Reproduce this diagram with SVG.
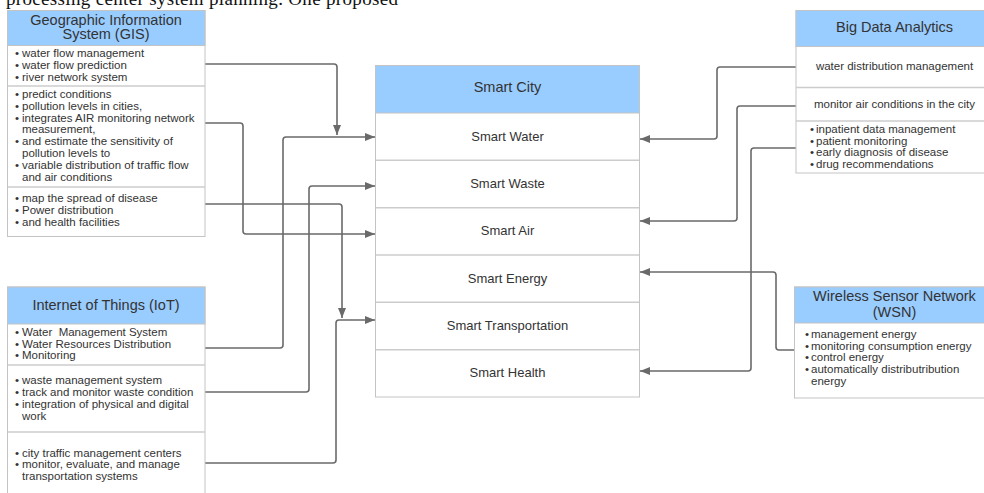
<svg xmlns="http://www.w3.org/2000/svg" width="984" height="493" viewBox="0 0 984 493">
<style>
.bx{fill:#ffffff;stroke:#c4c4c4;stroke-width:1}
.hd{fill:#99ccff;stroke:#c4c4c4;stroke-width:1}
.dv{stroke:#cccccc;stroke-width:1.5;fill:none}
.t{font-family:"Liberation Sans",Arial,sans-serif;fill:#333333}
.h{font-size:14.5px;text-anchor:middle}
.r{font-size:13px;text-anchor:middle}
.b{font-size:11.5px}
.c{font-size:11.5px;text-anchor:middle}
.ln{fill:none;stroke:#6a6a6a;stroke-width:1.6}
.top{font-family:"Liberation Serif","Times New Roman",serif;font-size:19px;fill:#111111}
</style>
<defs>
<marker id="ah" markerWidth="10" markerHeight="8" refX="10" refY="4" orient="auto" markerUnits="userSpaceOnUse">
<path d="M0,0 L10,4 L0,8 z" fill="#6a6a6a"/>
</marker>
</defs>
<rect width="984" height="493" fill="#ffffff"/>
<text class="top" x="6" y="4.5" textLength="392" lengthAdjust="spacing">processing  center  system  planning.  One  proposed</text>

<g id="connectors">
<path class="ln" marker-end="url(#ah)" d="M205,64 H334 Q337,64 337,67 V135"/>
<path class="ln" marker-end="url(#ah)" d="M205,348 H280 Q283,348 283,345 V140 Q283,137 286,137 H375"/>
<path class="ln" marker-end="url(#ah)" d="M205,123 H240 Q243,123 243,126 V231 Q243,234 246,234 H375"/>
<path class="ln" marker-end="url(#ah)" d="M205,392 H306 Q309,392 309,389 V189 Q309,186 312,186 H375"/>
<path class="ln" marker-end="url(#ah)" d="M205,204 H339 Q342,204 342,207 V318"/>
<path class="ln" marker-end="url(#ah)" d="M205,463 H333 Q336,463 336,460 V323 Q336,320 339,320 H375"/>
<path class="ln" marker-end="url(#ah)" d="M796,67 H720 Q717,67 717,70 V136 Q717,139 714,139 H640"/>
<path class="ln" marker-end="url(#ah)" d="M796,106 H740 Q737,106 737,109 V218 Q737,221 734,221 H640"/>
<path class="ln" marker-end="url(#ah)" d="M796,148 H754 Q751,148 751,151 V368 Q751,371 748,371 H640"/>
<path class="ln" marker-end="url(#ah)" d="M794,350 H779 Q776,350 776,347 V275 Q776,272 773,272 H640"/>
</g>

<g id="gis">
<rect class="bx" x="7.5" y="10.5" width="197.5" height="226"/>
<rect class="hd" x="7.5" y="10.5" width="197.5" height="35"/>
<line class="dv" x1="8" y1="86" x2="205" y2="86"/>
<line class="dv" x1="8" y1="187" x2="205" y2="187"/>
<text class="t h" x="106" y="24.5">Geographic Information</text>
<text class="t h" x="106" y="39">System (GIS)</text>
<g class="t b">
<text x="15" y="57">•</text><text x="22" y="57">water flow management</text>
<text x="15" y="69">•</text><text x="22" y="69">water flow prediction</text>
<text x="15" y="81">•</text><text x="22" y="81">river network system</text>
<text x="15" y="98">•</text><text x="22" y="98">predict conditions</text>
<text x="15" y="109.8">•</text><text x="22" y="109.8">pollution levels in cities,</text>
<text x="15" y="121.6">•</text><text x="22" y="121.6">integrates AIR monitoring network</text>
<text x="22" y="133.4">measurement,</text>
<text x="15" y="145.2">•</text><text x="22" y="145.2">and estimate the sensitivity of</text>
<text x="22" y="157">pollution levels to</text>
<text x="15" y="168.8">•</text><text x="22" y="168.8">variable distribution of traffic flow</text>
<text x="22" y="180.6">and air conditions</text>
<text x="15" y="202">•</text><text x="22" y="202">map the spread of disease</text>
<text x="15" y="213.7">•</text><text x="22" y="213.7">Power distribution</text>
<text x="15" y="225.5">•</text><text x="22" y="225.5">and health facilities</text>
</g>
</g>

<g id="iot">
<rect class="bx" x="7.5" y="287" width="197.5" height="215"/>
<rect class="hd" x="7.5" y="287" width="197.5" height="37"/>
<line class="dv" x1="8" y1="365" x2="205" y2="365"/>
<line class="dv" x1="8" y1="432" x2="205" y2="432"/>
<text class="t h" x="106" y="310">Internet of Things (IoT)</text>
<g class="t b">
<text x="15" y="336">•</text><text x="22" y="336" xml:space="preserve">Water  Management System</text>
<text x="15" y="347.5">•</text><text x="22" y="347.5">Water Resources Distribution</text>
<text x="15" y="359">•</text><text x="22" y="359">Monitoring</text>
<text x="15" y="383.5">•</text><text x="22" y="383.5">waste management system</text>
<text x="15" y="395.5">•</text><text x="22" y="395.5">track and monitor waste condition</text>
<text x="15" y="407.5">•</text><text x="22" y="407.5">integration of physical and digital</text>
<text x="22" y="419.5">work</text>
<text x="15" y="456.5">•</text><text x="22" y="456.5">city traffic management centers</text>
<text x="15" y="468">•</text><text x="22" y="468">monitor, evaluate, and manage</text>
<text x="22" y="479.5">transportation systems</text>
</g>
</g>

<g id="smartcity">
<rect class="bx" x="375.5" y="65.5" width="264" height="331.5"/>
<rect class="hd" x="375.5" y="65.5" width="264" height="47.5"/>
<line class="dv" x1="376" y1="160.3" x2="639" y2="160.3"/>
<line class="dv" x1="376" y1="207.7" x2="639" y2="207.7"/>
<line class="dv" x1="376" y1="255" x2="639" y2="255"/>
<line class="dv" x1="376" y1="302.3" x2="639" y2="302.3"/>
<line class="dv" x1="376" y1="349.7" x2="639" y2="349.7"/>
<text class="t h" x="507.5" y="92">Smart City</text>
<text class="t r" x="507.5" y="141">Smart Water</text>
<text class="t r" x="507.5" y="188">Smart Waste</text>
<text class="t r" x="507.5" y="235">Smart Air</text>
<text class="t r" x="507.5" y="282.5">Smart Energy</text>
<text class="t r" x="507.5" y="330">Smart Transportation</text>
<text class="t r" x="507.5" y="377">Smart Health</text>
</g>

<g id="bigdata">
<rect class="bx" x="796" y="10.5" width="199" height="162.5"/>
<rect class="hd" x="796" y="10.5" width="199" height="36"/>
<line class="dv" x1="796" y1="87.5" x2="995" y2="87.5"/>
<line class="dv" x1="796" y1="121" x2="995" y2="121"/>
<text class="t h" x="894.5" y="32">Big Data Analytics</text>
<text class="t c" x="894.5" y="70">water distribution management</text>
<text class="t c" x="894.5" y="108">monitor air conditions in the city</text>
<g class="t b">
<text x="810" y="133">•</text><text x="816" y="133">inpatient data management</text>
<text x="810" y="144.5">•</text><text x="816" y="144.5">patient monitoring</text>
<text x="810" y="156">•</text><text x="816" y="156">early diagnosis of disease</text>
<text x="810" y="167.5">•</text><text x="816" y="167.5">drug recommendations</text>
</g>
</g>

<g id="wsn">
<rect class="bx" x="794.5" y="287" width="200" height="111"/>
<rect class="hd" x="794.5" y="287" width="200" height="36"/>
<text class="t h" x="894.5" y="301">Wireless Sensor Network</text>
<text class="t h" x="894.5" y="317">(WSN)</text>
<g class="t b">
<text x="805" y="338">•</text><text x="811" y="338">management energy</text>
<text x="805" y="349.7">•</text><text x="811" y="349.7">monitoring consumption energy</text>
<text x="805" y="361.4">•</text><text x="811" y="361.4">control energy</text>
<text x="805" y="373.1">•</text><text x="811" y="373.1">automatically distributribution</text>
<text x="811" y="384.8">energy</text>
</g>
</g>
</svg>
